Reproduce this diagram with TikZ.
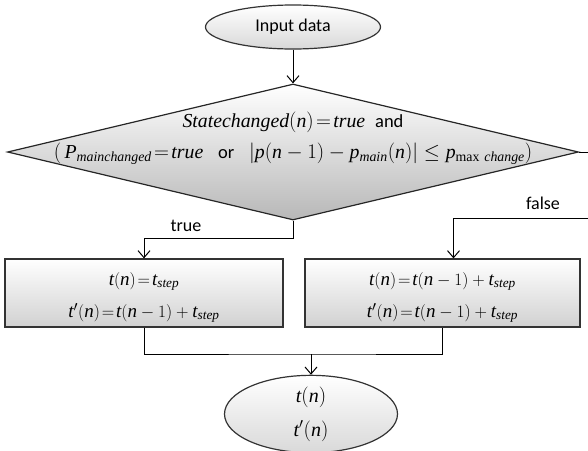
\documentclass[tikz,border=0pt]{standalone}
\usepackage{amsmath,amssymb}
\usepackage{fontspec}
\setmainfont{Liberation Serif}
\newfontfamily\uifont{Carlito}
\usetikzlibrary{positioning, calc, arrows.meta, shapes.geometric}
\newcommand{\vi}[1]{\mathit{#1}}
\newcommand{\eqs}{\!=\!}

\begin{document}
\begin{tikzpicture}[thick, x=1pt, y=-1pt,
    terminal/.style={ellipse, draw=black!80, line width=1.2pt, top color=white,
        bottom color=black!15, inner sep=0pt, align=center},
    decision/.style={diamond, draw=black!85, line width=1.2pt, top color=white,
        bottom color=black!28, inner sep=0pt},
    process/.style={rectangle, draw=black!80, line width=1.2pt, top color=white,
        bottom color=black!18, minimum height=68pt, inner sep=0pt, align=center},
    flow/.style={-{Straight Barb[length=7pt,width=12pt]}, line width=1pt},
    lbl/.style={font=\uifont\fontsize{18}{22}\selectfont},
    mth/.style={font=\fontsize{19}{32}\selectfont, align=center}]

    \useasboundingbox (0,0) rectangle (588,450);

    % --- START ---
    \node[terminal, minimum width=175pt, minimum height=44pt, lbl] (in) at (293,27) {Input data};

    % --- CONDITION ---
    \node[decision, minimum width=571pt, minimum height=136pt] (cond) at (293,152) {};
    \node[mth, font=\fontsize{19.8}{31}\selectfont] (condtxt) at (293,138)
        {$\vi{Statechanged}(\vi{n})\eqs\vi{true}$\ \ {\uifont\fontsize{18.5}{22}\selectfont and}\\
         $(\,\vi{P}_{\vi{mainchanged}}\eqs\vi{true}$\ \ \ {\uifont\fontsize{18.5}{22}\selectfont or}\ \ \
         $\left|\vi{p}(\vi{n}-1)-\vi{p}_{\vi{main}}(\vi{n})\right|\le \vi{p}_{\max\,\vi{change}})$};

    % --- BRANCH BOXES ---
    \node[process, minimum width=278pt, mth] (lbox) at (144,293)
        {\rule{0pt}{22pt}$\vi{t}(\vi{n})\eqs\vi{t}_{\vi{step}}$\\ $\vi{t}'(\vi{n})\eqs\vi{t}(\vi{n}-1)+\vi{t}_{\vi{step}}$};
    \node[process, minimum width=275pt, mth] (rbox) at (442.5,293)
        {\rule{0pt}{22pt}$\vi{t}(\vi{n})\eqs\vi{t}(\vi{n}-1)+\vi{t}_{\vi{step}}$\\ $\vi{t}'(\vi{n})\eqs\vi{t}(\vi{n}-1)+\vi{t}_{\vi{step}}$};

    % --- END ---
    \node[terminal, minimum width=173pt, minimum height=66pt, mth, font=\fontsize{20}{34}\selectfont] (out) at (311,414)
        {$\vi{t}(\vi{n})$\\ $\vi{t}'(\vi{n})$};

    % --- CONNECTIONS ---
    \coordinate (fr) at (588,152);
    \coordinate (fturn) at (588,218);
    \coordinate (merge) at (311,354);

    \draw[flow] (in) -- (cond.north);
    \draw[flow] (cond.south) -- ++(0,18) -| (lbox.north);
    \draw (cond.east) -- (fr);
    \draw[flow] (fturn) -| ([xshift=11pt]rbox.north);
    \draw (lbox.south) |- (merge) -| (rbox.south);
    \draw[flow] (merge) -- (out);

    % --- BRANCH LABELS ---
    \node[lbl] (ltrue) at (186,226) {true};
    \node[lbl] (lfalse) at (543,203) {false};

\end{tikzpicture}
\end{document}
